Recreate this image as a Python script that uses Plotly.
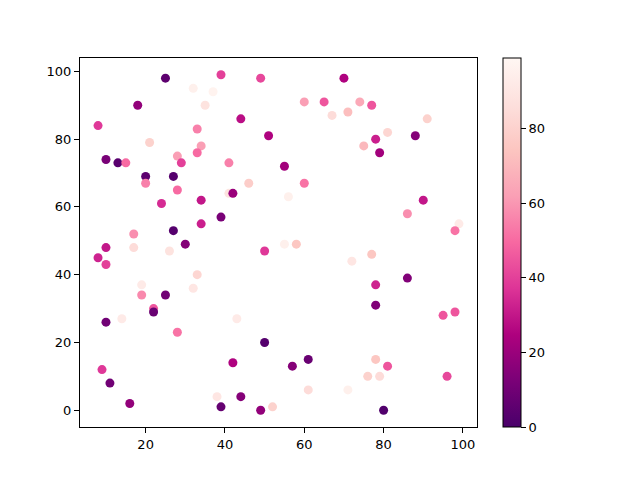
import plotly.graph_objects as go

# scatter points
x_vals = [25, 32, 37, 39, 49, 70, 18, 35, 44, 8, 33, 21, 34, 33, 28, 29, 41, 46, 41, 42,
          20, 20, 27, 28, 24, 34, 39, 34, 27, 17, 30, 10, 17, 10, 13, 15, 51, 60, 65, 74,
          77, 67, 71, 91, 78, 81, 88, 75, 79, 55, 60, 56, 90, 86, 99, 98, 55, 58, 26, 50,
          8, 10, 33, 19, 32, 19, 25, 22, 22, 14, 43, 10, 28, 50, 42, 9, 11, 38, 44, 16,
          39, 49, 52, 77, 72, 86, 78, 78, 95, 98, 61, 57, 78, 81, 76, 79, 96, 61, 71, 80]
y_vals = [98, 95, 94, 99, 98, 98, 90, 90, 86, 84, 83, 79, 78, 76, 75, 73, 73, 67, 64, 64,
          69, 67, 69, 65, 61, 62, 57, 55, 53, 52, 49, 48, 48, 74, 73, 73, 81, 91, 91, 91,
          90, 87, 88, 86, 80, 82, 81, 78, 76, 72, 67, 63, 62, 58, 55, 53, 49, 49, 47, 47,
          45, 43, 40, 37, 36, 34, 34, 30, 29, 27, 27, 26, 23, 20, 14, 12, 8, 4, 4, 2,
          1, 0, 1, 46, 44, 39, 37, 31, 28, 29, 15, 13, 15, 13, 10, 10, 10, 6, 6, 0]
c_vals = [5, 95, 97, 40, 42, 25, 18, 88, 28, 38, 55, 80, 62, 50, 62, 40, 55, 78, 88, 20,
          5, 55, 3, 50, 35, 30, 12, 32, 3, 58, 15, 30, 85, 12, 4, 50, 25, 62, 45, 65,
          45, 85, 72, 80, 32, 82, 15, 70, 22, 22, 52, 95, 30, 58, 92, 52, 95, 75, 88, 38,
          33, 40, 82, 92, 90, 57, 10, 45, 8, 92, 92, 10, 52, 3, 25, 38, 10, 90, 15, 18,
          7, 18, 80, 75, 90, 14, 33, 14, 45, 45, 8, 15, 75, 45, 80, 85, 42, 85, 95, 2]

fig = go.Figure()
fig.add_trace(go.Scatter(
    x=x_vals, y=y_vals, mode="markers",
    marker=dict(
        size=9, color=c_vals, colorscale="RdPu_r", cmin=0, cmax=99,
        line=dict(width=0),
        colorbar=dict(
            x=1.065, xanchor="left", xpad=0, y=0.5, yanchor="middle",
            len=1, lenmode="fraction", thickness=18, ypad=0,
            outlinewidth=1, outlinecolor="black",
            tickvals=[0, 20, 40, 60, 80], ticks="outside", ticklen=5,
            tickcolor="black", tickfont=dict(size=13, color="black"),
        ),
    ),
    showlegend=False,
))

axis_style = dict(
    showgrid=False, zeroline=False, showline=True, linecolor="black", linewidth=1,
    mirror=True, ticks="outside", ticklen=5, tickcolor="black",
    tickfont=dict(size=13, color="black"),
)

# page body adds 8px, so margins are shifted to compensate
fig.update_layout(
    width=640, height=480,
    margin=dict(l=72, r=171, t=50, b=61),
    paper_bgcolor="white", plot_bgcolor="white",
    font=dict(family="DejaVu Sans"),
    xaxis=dict(range=[3.45, 103.55], tickvals=[20, 40, 60, 80, 100], **axis_style),
    yaxis=dict(range=[-4.95, 103.95], tickvals=[0, 20, 40, 60, 80, 100], **axis_style),
)

fig.write_html("out.html")
